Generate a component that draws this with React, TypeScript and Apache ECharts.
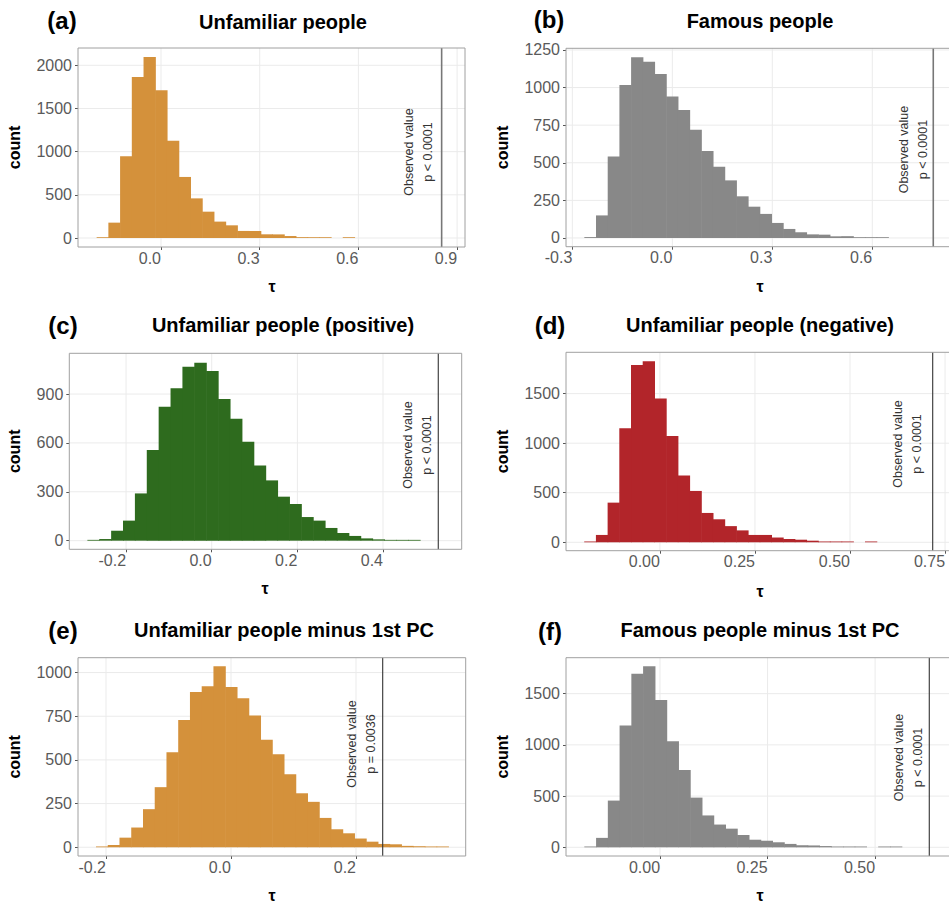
import React, { useEffect, useRef } from "react";
import * as echarts from "echarts";

// ---------------- data ----------------
const TAGS = ["(a)", "(b)", "(c)", "(d)", "(e)", "(f)"];
const TITLES = [
  "Unfamiliar people",
  "Famous people",
  "Unfamiliar people (positive)",
  "Unfamiliar people (negative)",
  "Unfamiliar people minus 1st PC",
  "Famous people minus 1st PC",
];

const COUNTS_A = [8, 178, 946, 1865, 2097, 1710, 1127, 707, 459, 305, 190, 147, 82, 81, 43, 42, 23, 10, 9, 9, 0, 8];
const COUNTS_B = [6, 150, 541, 1017, 1201, 1172, 1090, 940, 851, 720, 578, 474, 383, 277, 208, 160, 100, 60, 38, 24, 22, 11, 12, 5, 4, 4];
const COUNTS_C = [4, 10, 61, 123, 290, 556, 822, 935, 1068, 1092, 1041, 869, 749, 607, 462, 370, 270, 225, 145, 123, 78, 47, 29, 14, 8, 4, 2, 2];
const COUNTS_D = [5, 74, 400, 1150, 1790, 1826, 1450, 1073, 673, 518, 296, 232, 163, 120, 74, 74, 48, 33, 26, 16, 6, 6, 6, 0, 5];
const COUNTS_E = [4, 13, 55, 113, 218, 344, 544, 729, 889, 922, 1036, 918, 853, 754, 615, 532, 418, 309, 260, 168, 103, 80, 50, 32, 19, 17, 8, 6, 4, 4];
const COUNTS_F = [5, 92, 456, 1188, 1695, 1767, 1438, 1035, 755, 485, 311, 222, 182, 120, 74, 64, 49, 33, 20, 18, 12, 7, 6, 6, 0, 4, 4];
const COUNTS = [COUNTS_A, COUNTS_B, COUNTS_C, COUNTS_D, COUNTS_E, COUNTS_F];

const BIN_START = [-0.1956, -0.264, -0.2903, -0.1991, -0.216, -0.176];
const BIN_WIDTH = [0.03562, 0.03508, 0.02774, 0.03077, 0.01879, 0.02733];
const OBSERVED = [0.853, 0.783, 0.529, 0.7175, 0.2427, 0.626];
const P_LABELS = ["p < 0.0001", "p < 0.0001", "p < 0.0001", "p < 0.0001", "p = 0.0036", "p < 0.0001"];
const ANNOT_Y = [996, 588, 587, 992, 591, 877];

const X_TICKS = [
  [0, 0.3, 0.6, 0.9],
  [-0.3, 0, 0.3, 0.6],
  [-0.2, 0, 0.2, 0.4],
  [0, 0.25, 0.5, 0.75],
  [-0.2, 0, 0.2],
  [0, 0.25, 0.5],
];
const X_DECIMALS = [1, 1, 1, 2, 1, 2];
const Y_TICKS = [
  [0, 500, 1000, 1500, 2000],
  [0, 250, 500, 750, 1000, 1250],
  [0, 300, 600, 900],
  [0, 500, 1000, 1500],
  [0, 250, 500, 750, 1000],
  [0, 500, 1000, 1500],
];

// ---------------- layout / style ----------------
const ORANGE = "#d4913b";
const GREY = "#888888";
const GREEN = "#2e6b1e";
const RED = "#b2252a";
const FILLS = [ORANGE, GREY, GREEN, RED, ORANGE, GREY];

const LAYOUT = [
  { left: 78, top: 48, width: 387, height: 199, xMin: -0.2523, xMax: 0.924, yMin: -104, yMax: 2200, tagX: 62, tagY: 20, titleX: 283, titleY: 22, yNameX: 14, xNameX: 272, xNameY: 286, off: -23, vColor: "#777777", vWidth: 1.6 },
  { left: 566, top: 48.3, width: 384.6, height: 198.4, xMin: -0.319, xMax: 0.835, yMin: -58, yMax: 1261, tagX: 549, tagY: 19, titleX: 760, titleY: 21, yNameX: 502, xNameX: 760, xNameY: 286, off: -20, vColor: "#777777", vWidth: 1.6 },
  { left: 69.3, top: 353.3, width: 392.4, height: 196, xMin: -0.3325, xMax: 0.5837, yMin: -53, yMax: 1150, tagX: 63, tagY: 325, titleX: 283, titleY: 325, yNameX: 14, xNameX: 265, xNameY: 588, off: -21, vColor: "#333333", vWidth: 1.1 },
  { left: 566, top: 352.3, width: 384, height: 198.4, xMin: -0.247, xMax: 0.763, yMin: -85, yMax: 1917, tagX: 550, tagY: 325, titleX: 760, titleY: 325, yNameX: 502, xNameX: 760, xNameY: 591, off: -25, vColor: "#333333", vWidth: 1.1 },
  { left: 78, top: 657.7, width: 387.7, height: 198.3, xMin: -0.2448, xMax: 0.3755, yMin: -50, yMax: 1085, tagX: 63, tagY: 630, titleX: 284, titleY: 630, yNameX: 14, xNameX: 272, xNameY: 895, off: -21, vColor: "#333333", vWidth: 1.1 },
  { left: 566, top: 657.7, width: 383.5, height: 198.3, xMin: -0.2186, xMax: 0.673, yMin: -85, yMax: 1851, tagX: 550, tagY: 631, titleX: 760, titleY: 630, yNameX: 502, xNameX: 760, xNameY: 895, off: -21, vColor: "#333333", vWidth: 1.1 },
];

const FONT = "Liberation Sans, Arial, Helvetica, sans-serif";
const GRID_COLOR = "#ebebeb";

function buildOption() {
  const grid: any[] = [];
  const xAxis: any[] = [];
  const yAxis: any[] = [];
  const series: any[] = [];
  const graphic: any[] = [];

  LAYOUT.forEach((L, i) => {
    grid.push({
      left: L.left,
      top: L.top,
      width: L.width,
      height: L.height,
      containLabel: false,
      outerBoundsMode: "none",
      show: true,
      borderColor: "#a0a0a0",
      borderWidth: 1,
      backgroundColor: "transparent",
      z: 5,
    });
    xAxis.push({
      type: "value",
      gridIndex: i,
      min: L.xMin,
      max: L.xMax,
      axisLine: { show: false, onZero: false },
      axisTick: { show: true, length: 3, lineStyle: { color: "#555" }, customValues: X_TICKS[i] },
      axisLabel: {
        show: true,
        customValues: X_TICKS[i],
        margin: 3,
        fontSize: 16,
        fontFamily: FONT,
        color: "#5a5a5a",
        align: "right",
        formatter: (v: number) => v.toFixed(X_DECIMALS[i]),
      },
      splitLine: { show: false },
    });
    yAxis.push({
      type: "value",
      gridIndex: i,
      min: L.yMin,
      max: L.yMax,
      axisLine: { show: false, onZero: false },
      axisTick: { show: true, length: 3, lineStyle: { color: "#555" }, customValues: Y_TICKS[i] },
      axisLabel: {
        show: true,
        customValues: Y_TICKS[i],
        margin: 6,
        fontSize: 16,
        fontFamily: FONT,
        color: "#5a5a5a",
        formatter: (v: number) => String(Math.round(v)),
      },
      splitLine: { show: false },
    });

    // grid lines at the major ticks
    series.push({
      type: "custom",
      xAxisIndex: i,
      yAxisIndex: i,
      z: 1,
      silent: true,
      data: X_TICKS[i].map((v) => [v]),
      encode: { x: 0 },
      renderItem: (params: any, api: any) => {
        const v = api.value(0);
        const a = api.coord([v, L.yMin]);
        const b = api.coord([v, L.yMax]);
        return { type: "line", shape: { x1: a[0], y1: a[1], x2: b[0], y2: b[1] }, style: { stroke: GRID_COLOR, lineWidth: 1 } };
      },
    });
    series.push({
      type: "custom",
      xAxisIndex: i,
      yAxisIndex: i,
      z: 1,
      silent: true,
      data: Y_TICKS[i].map((v) => [v]),
      encode: { y: 0 },
      renderItem: (params: any, api: any) => {
        const v = api.value(0);
        const a = api.coord([L.xMin, v]);
        const b = api.coord([L.xMax, v]);
        return { type: "line", shape: { x1: a[0], y1: a[1], x2: b[0], y2: b[1] }, style: { stroke: GRID_COLOR, lineWidth: 1 } };
      },
    });

    const fill = FILLS[i];
    const bins = COUNTS[i].map((c, k) => [BIN_START[i] + k * BIN_WIDTH[i], BIN_START[i] + (k + 1) * BIN_WIDTH[i], c]);
    series.push({
      type: "custom",
      xAxisIndex: i,
      yAxisIndex: i,
      z: 2,
      data: bins,
      encode: { x: [0, 1], y: 2 },
      silent: true,
      renderItem: (params: any, api: any) => {
        const c = api.value(2);
        if (!c) return null;
        const p0 = api.coord([api.value(0), 0]);
        const p1 = api.coord([api.value(1), c]);
        const h = Math.max(p0[1] - p1[1], 0.8);
        return {
          type: "rect",
          shape: { x: p0[0], y: p0[1] - h, width: p1[0] - p0[0] + 0.6, height: h },
          style: { fill },
        };
      },
    });

    const pLabel = P_LABELS[i];
    series.push({
      type: "custom",
      xAxisIndex: i,
      yAxisIndex: i,
      z: 3,
      data: [[OBSERVED[i], ANNOT_Y[i], L.yMin, L.yMax]],
      encode: { x: 0, y: 1 },
      silent: true,
      renderItem: (params: any, api: any) => {
        const pt = api.coord([api.value(0), api.value(1)]);
        const a = api.coord([api.value(0), api.value(2)]);
        const b = api.coord([api.value(0), api.value(3)]);
        return {
          type: "group",
          children: [
            {
              type: "line",
              shape: { x1: a[0], y1: a[1], x2: b[0], y2: b[1] },
              style: { stroke: L.vColor, lineWidth: L.vWidth },
            },
            {
              type: "text",
              x: pt[0] + L.off,
              y: pt[1],
              rotation: Math.PI / 2,
              style: {
                text: "Observed value\n" + pLabel,
                fill: "#333",
                font: `12.5px ${FONT}`,
                align: "center",
                verticalAlign: "middle",
                textAlign: "center",
                textVerticalAlign: "middle",
                lineHeight: 19.5,
              },
            },
          ],
        };
      },
    });

    graphic.push(
      {
        type: "text",
        x: L.tagX,
        y: L.tagY,
        style: { text: TAGS[i], font: `bold 24px ${FONT}`, fill: "#000", align: "center", verticalAlign: "middle", textAlign: "center", textVerticalAlign: "middle" },
      },
      {
        type: "text",
        x: L.titleX,
        y: L.titleY,
        style: { text: TITLES[i], font: `bold 20px ${FONT}`, fill: "#000", align: "center", verticalAlign: "middle", textAlign: "center", textVerticalAlign: "middle" },
      },
      {
        type: "text",
        x: L.yNameX,
        y: L.top + L.height / 2,
        rotation: Math.PI / 2,
        style: { text: "count", font: `bold 16px ${FONT}`, fill: "#000", align: "center", verticalAlign: "middle", textAlign: "center", textVerticalAlign: "middle" },
      },
      {
        type: "text",
        x: L.xNameX,
        y: L.xNameY,
        style: { text: "τ", font: `bold 16px ${FONT}`, fill: "#000", align: "center", verticalAlign: "middle", textAlign: "center", textVerticalAlign: "middle" },
      }
    );
  });

  return {
    animation: false,
    backgroundColor: "#ffffff",
    textStyle: { fontFamily: FONT },
    grid,
    xAxis,
    yAxis,
    series,
    graphic,
  };
}

export default function App() {
  const ref = useRef<HTMLDivElement>(null);
  useEffect(() => {
    if (!ref.current) return;
    const chart = echarts.init(ref.current, undefined, { renderer: "svg" });
    chart.setOption(buildOption() as any);
    return () => chart.dispose();
  }, []);
  return (
    <div
      ref={ref}
      style={{ position: "fixed", left: 0, top: 0, width: 949, height: 904, background: "#fff" }}
    />
  );
}
